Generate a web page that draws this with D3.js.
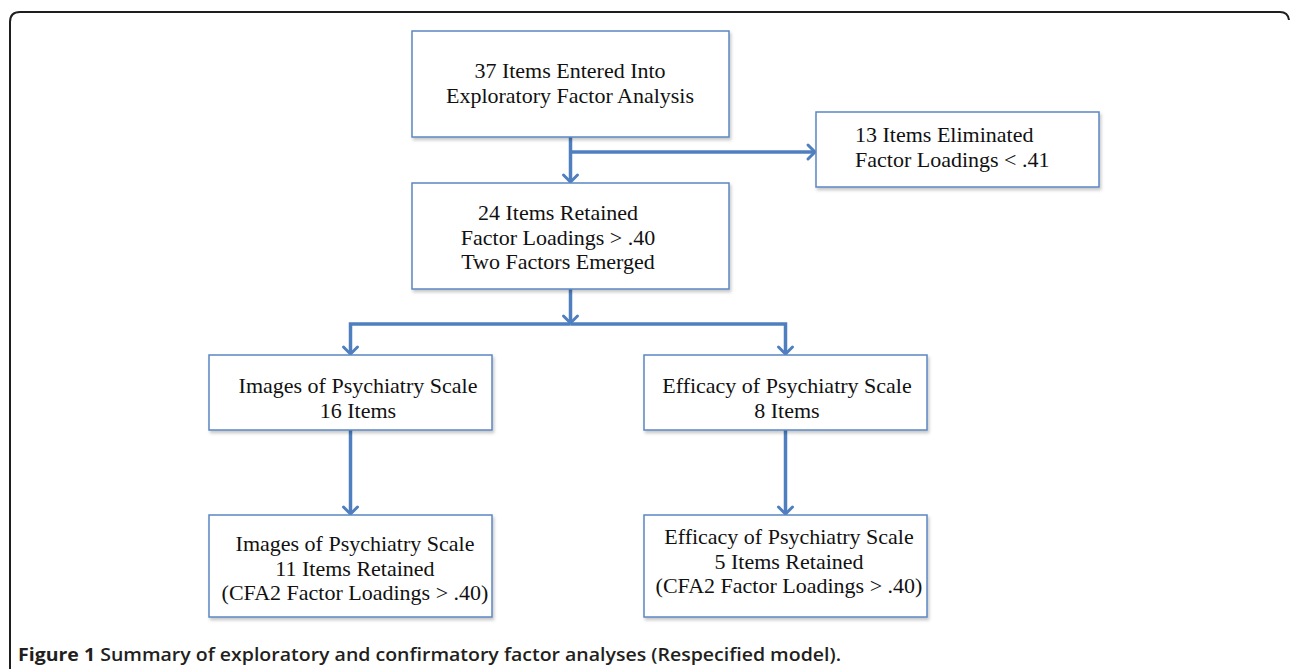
<!DOCTYPE html>
<html>
<head>
<meta charset="utf-8">
<script src="https://cdn.jsdelivr.net/npm/d3@7"></script>
<style>
  body { margin: 0; background: #fff; }
</style>
</head>
<body>
<script>
// flowchart content
var boxIds = ["efa", "elim", "retained", "images", "efficacy", "images2", "efficacy2"];
var boxLines = [
  ["37 Items Entered Into", "Exploratory Factor Analysis"],
  ["13 Items Eliminated", "Factor Loadings < .41"],
  ["24 Items Retained", "Factor Loadings > .40", "Two Factors Emerged"],
  ["Images of Psychiatry Scale", "16 Items"],
  ["Efficacy of Psychiatry Scale", "8 Items"],
  ["Images of Psychiatry Scale", "11 Items Retained", "(CFA2 Factor Loadings > .40)"],
  ["Efficacy of Psychiatry Scale", "5 Items Retained", "(CFA2 Factor Loadings > .40)"]
];
var links = [
  ["efa", "retained"],
  ["efa", "elim"],
  ["retained", "images"],
  ["retained", "efficacy"],
  ["images", "images2"],
  ["efficacy", "efficacy2"]
];
var caption = ["Figure 1", "Summary of exploratory and confirmatory factor analyses (Respecified model)."];

// layout (pixels)
var layout = {
  efa:       {x: 412, y: 31,  w: 317, h: 106, tx: 570, ty: 71,  align: "middle"},
  elim:      {x: 816, y: 112, w: 283, h: 75,  tx: 855, ty: 135, align: "start"},
  retained:  {x: 412, y: 183, w: 317, h: 106, tx: 558, ty: 213, align: "middle"},
  images:    {x: 209, y: 355, w: 283, h: 75,  tx: 358, ty: 386, align: "middle"},
  efficacy:  {x: 644, y: 355, w: 283, h: 75,  tx: 787, ty: 386, align: "middle"},
  images2:   {x: 209, y: 515, w: 283, h: 102, tx: 355, ty: 544, align: "middle"},
  efficacy2: {x: 644, y: 515, w: 283, h: 102, tx: 789, ty: 537, align: "middle"}
};

var width = 1290, height = 669;
var blue = "#4f7fbe", lineH = 24.5;

var svg = d3.select("body").append("svg")
  .attr("width", width)
  .attr("height", height);

var defs = svg.append("defs");
var f = defs.append("filter").attr("id", "shadow")
  .attr("x", "-5%").attr("y", "-5%").attr("width", "115%").attr("height", "120%");
f.append("feDropShadow")
  .attr("dx", 1.5).attr("dy", 2.5).attr("stdDeviation", 1.5)
  .attr("flood-color", "#000").attr("flood-opacity", 0.22);

defs.append("marker")
  .attr("id", "head")
  .attr("viewBox", "-10 -10 20 20")
  .attr("markerWidth", 20).attr("markerHeight", 20)
  .attr("markerUnits", "userSpaceOnUse")
  .attr("refX", -1).attr("refY", 0)
  .attr("orient", "auto")
  .append("path")
  .attr("d", "M-7,-7 L0,0 L-7,7")
  .attr("fill", "none")
  .attr("stroke", blue)
  .attr("stroke-width", 3)
  .attr("stroke-linecap", "round")
  .attr("stroke-linejoin", "round");

// outer frame
svg.append("path")
  .attr("d", "M10,669 L10,22 Q10,12 20,12 L1280,12 Q1288,12 1289,20")
  .attr("fill", "none")
  .attr("stroke", "#1e1e1e")
  .attr("stroke-width", 2);

// connectors
function routePath(l) {
  var a = layout[l[0]], b = layout[l[1]];
  var ax = a.x + a.w / 2, ay = a.y + a.h;
  if (l[0] === "efa" && l[1] === "elim") {
    var yb = 152;
    return [[ax, yb], [b.x - 2, yb]];
  }
  var bx = b.x + b.w / 2;
  if (l[0] === "retained") {
    var ym = 324;
    return [[ax, ym], [bx, ym], [bx, b.y - 2]];
  }
  return [[ax, ay], [bx, b.y - 2]];
}

var g = svg.append("g");
// trunk from retained box down to the split bar
var r = layout.retained;
g.append("path")
  .attr("d", d3.line()([[r.x + r.w / 2, r.y + r.h], [r.x + r.w / 2, 322]]))
  .attr("stroke", blue).attr("stroke-width", 3.5).attr("fill", "none")
  .attr("marker-end", "url(#head)");

g.selectAll("path.link")
  .data(links)
  .enter().append("path")
  .attr("class", "link")
  .attr("d", function(d) { return d3.line()(routePath(d)); })
  .attr("fill", "none")
  .attr("stroke", blue)
  .attr("stroke-width", 3.5)
  .attr("stroke-linejoin", "miter")
  .attr("marker-end", "url(#head)");

// boxes
var box = svg.selectAll("g.box")
  .data(boxIds)
  .enter().append("g")
  .attr("class", "box");

box.append("rect")
  .attr("x", function(d) { return layout[d].x; })
  .attr("y", function(d) { return layout[d].y; })
  .attr("width", function(d) { return layout[d].w; })
  .attr("height", function(d) { return layout[d].h; })
  .attr("fill", "#fff")
  .attr("stroke", "#5b87c2")
  .attr("stroke-width", 1.5)
  .attr("filter", "url(#shadow)");

box.append("text")
  .attr("font-family", "'Liberation Serif', 'DejaVu Serif', serif")
  .attr("font-size", 22)
  .attr("fill", "#111")
  .attr("text-anchor", function(d) { return layout[d].align; })
  .selectAll("tspan")
  .data(function(d, i) { return boxLines[i].map(function(t) { return {t: t, id: d}; }); })
  .enter().append("tspan")
  .attr("x", function(d) { return layout[d.id].tx; })
  .attr("y", function(d, i) { return layout[d.id].ty + i * lineH; })
  .attr("dy", "0.33em")
  .text(function(d) { return d.t; });

// caption
var cap = svg.append("text")
  .attr("x", 18).attr("y", 661)
  .attr("font-family", "'Open Sans', 'Noto Sans', sans-serif")
  .attr("font-size", 18)
  .attr("fill", "#231f20")
  .attr("textLength", 823)
  .attr("lengthAdjust", "spacingAndGlyphs");
cap.append("tspan").attr("font-weight", 700).text(caption[0] + " ");
cap.append("tspan").attr("font-weight", 600).text(caption[1]);
</script>
</body>
</html>
